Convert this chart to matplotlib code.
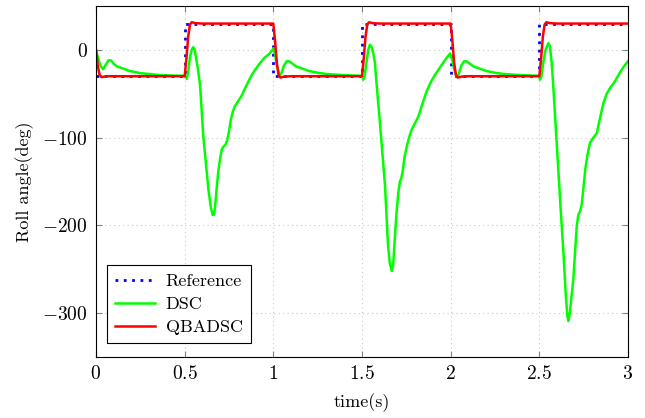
import matplotlib.pyplot as plt

# ===== DATA =====
# reference roll command (square wave, deg)
ref_t = [0, 0.5, 0.5, 1.0, 1.0, 1.5, 1.5, 2.0, 2.0, 2.5, 2.5, 3.0]
ref_y = [-30, -30, 30, 30, -30, -30, 30, 30, -30, -30, 30, 30]

# QBADSC response
qb_t = [0, 0.01, 0.02, 0.03, 0.045, 0.06, 0.5,
        0.51, 0.52, 0.53, 0.54, 0.56, 0.6, 1.0,
        1.01, 1.02, 1.03, 1.04, 1.06, 1.1, 1.5,
        1.51, 1.52, 1.53, 1.54, 1.56, 1.6, 2.0,
        2.01, 2.02, 2.03, 2.04, 2.06, 2.1, 2.5,
        2.51, 2.52, 2.53, 2.54, 2.56, 2.6, 3.0]
qb_y = [0, -18, -28, -31, -30.5, -30, -30,
        -10, 15, 29, 31.5, 30.5, 30, 30,
        10, -15, -29, -31.5, -30.5, -30, -30,
        -10, 15, 29, 31.5, 30.5, 30, 30,
        10, -15, -29, -31.5, -30.5, -30, -30,
        -10, 15, 29, 31.5, 30.5, 30, 30]

# DSC response
dsc_t = [0, 0.01, 0.025, 0.04, 0.055, 0.07, 0.085, 0.1, 0.12, 0.15, 0.19, 0.25,
         0.3, 0.35, 0.42, 0.5,
         0.505, 0.512, 0.52, 0.53, 0.54, 0.548, 0.556, 0.565, 0.575, 0.587,
         0.605, 0.62, 0.634, 0.648, 0.658, 0.665, 0.672, 0.68, 0.69, 0.70,
         0.71, 0.72, 0.73, 0.74, 0.75, 0.76, 0.772, 0.784, 0.8, 0.822, 0.84,
         0.86, 0.88, 0.9, 0.925, 0.95, 0.975, 0.995, 1.0,
         1.01, 1.02, 1.035, 1.045, 1.06, 1.075, 1.09, 1.11, 1.13, 1.16, 1.2,
         1.25, 1.3, 1.38, 1.45, 1.5,
         1.507, 1.515, 1.525, 1.535, 1.545, 1.555, 1.565, 1.573, 1.585, 1.6,
         1.615, 1.63, 1.647, 1.657, 1.668, 1.676, 1.686, 1.695, 1.705, 1.714,
         1.722, 1.73, 1.74, 1.755, 1.77, 1.78, 1.8, 1.818, 1.84, 1.865, 1.89,
         1.91, 1.93, 1.95, 1.97, 1.997,
         2.01, 2.02, 2.035, 2.045, 2.06, 2.075, 2.09, 2.11, 2.13, 2.16, 2.2,
         2.25, 2.3, 2.38, 2.45, 2.5,
         2.504, 2.512, 2.522, 2.535, 2.551, 2.56, 2.57, 2.579, 2.593, 2.607,
         2.62, 2.636, 2.648, 2.658, 2.664, 2.672, 2.682, 2.692, 2.70, 2.711,
         2.72, 2.73, 2.74, 2.75, 2.76, 2.773, 2.786, 2.805, 2.824, 2.84, 2.861,
         2.88, 2.9, 2.92, 2.937, 2.96, 2.98, 3.0]
dsc_y = [0, -8, -18, -22, -17, -12, -12, -16, -19, -21, -24, -26.5,
         -27.5, -28.5, -29.2, -29.5,
         -31, -33, -25, -8, 0, 3, 1, -10, -22, -40,
         -98, -130, -159, -180, -188, -188, -178, -159, -138, -124,
         -113, -110, -108, -103, -93, -80, -70, -64, -59, -52, -44,
         -36, -28, -22, -15, -9, -5, 0, 2,
         -5, -18, -29, -27, -18, -13, -13, -16, -19, -21, -24,
         -26, -27.5, -28.5, -29.2, -29.5,
         -34, -30, -15, 0, 6, 3, -5, -15, -45, -80,
         -118, -155, -223, -243, -252, -245, -212, -185, -163, -150,
         -146, -138, -122, -108, -97, -91, -83, -76, -62, -47, -36,
         -29, -23, -17, -11, -4,
         -12, -22, -31, -28, -18, -13, -13, -16, -19, -21, -24,
         -26, -27.5, -28.5, -29.2, -29.5,
         -34, -30, -15, 0, 7.6, 4, -15, -42, -90, -136,
         -180, -231, -275, -303, -309, -300, -280, -261, -235, -201,
         -188, -184, -175, -155, -135, -118, -106, -100, -95, -80, -61,
         -50, -43, -38, -32, -24, -18, -13]

x_ticks = [0, 0.5, 1, 1.5, 2, 2.5, 3]
x_tick_labels = ["0", "0.5", "1", "1.5", "2", "2.5", "3"]
y_ticks = [-300, -200, -100, 0]
y_tick_labels = ["-300", "-200", "-100", "0"]

# ===== STYLE =====
plt.rcParams["font.family"] = "serif"
plt.rcParams["font.serif"] = ["cmr10", "DejaVu Serif"]
plt.rcParams["mathtext.fontset"] = "cm"
plt.rcParams["axes.formatter.use_mathtext"] = True

fig = plt.figure(figsize=(6.45, 4.18), dpi=100)
ax = fig.add_axes([0.1488, 0.1459, 0.8248, 0.8397])

ax.plot(ref_t, ref_y, color="#0000FF", linestyle=(0, (1, 2)), linewidth=2.0,
        label="Reference")
ax.plot(dsc_t, dsc_y, color="#00FF00", linewidth=1.8, label="DSC")
ax.plot(qb_t, qb_y, color="#FF0000", linewidth=1.8, label="QBADSC")

ax.set_xlim(0, 3)
ax.set_ylim(-350, 50)
ax.set_xticks(x_ticks)
ax.set_xticklabels([f"${s}$" for s in x_tick_labels])
ax.set_yticks(y_ticks)
ax.set_yticklabels([f"${s}$" for s in y_tick_labels])

ax.tick_params(direction="in", length=4, width=0.8, color="#808080",
               top=True, right=True, labelsize=14, pad=6)
ax.grid(True, linestyle=(0, (1, 3)), color="#c8c8c8", linewidth=0.8)
for sp in ax.spines.values():
    sp.set_linewidth(0.8)

ax.set_xlabel("time(s)", fontsize=13, labelpad=7)
ax.set_ylabel("Roll angle(deg)", fontsize=13, labelpad=6)

leg = ax.legend(loc="lower left", bbox_to_anchor=(0.004, 0.014), fontsize=13,
                fancybox=False, framealpha=1, edgecolor="black",
                handlelength=2.2, borderpad=0.45, labelspacing=0.4,
                handletextpad=0.6)
leg.get_frame().set_linewidth(0.8)

fig.savefig("out.png", dpi=100)
